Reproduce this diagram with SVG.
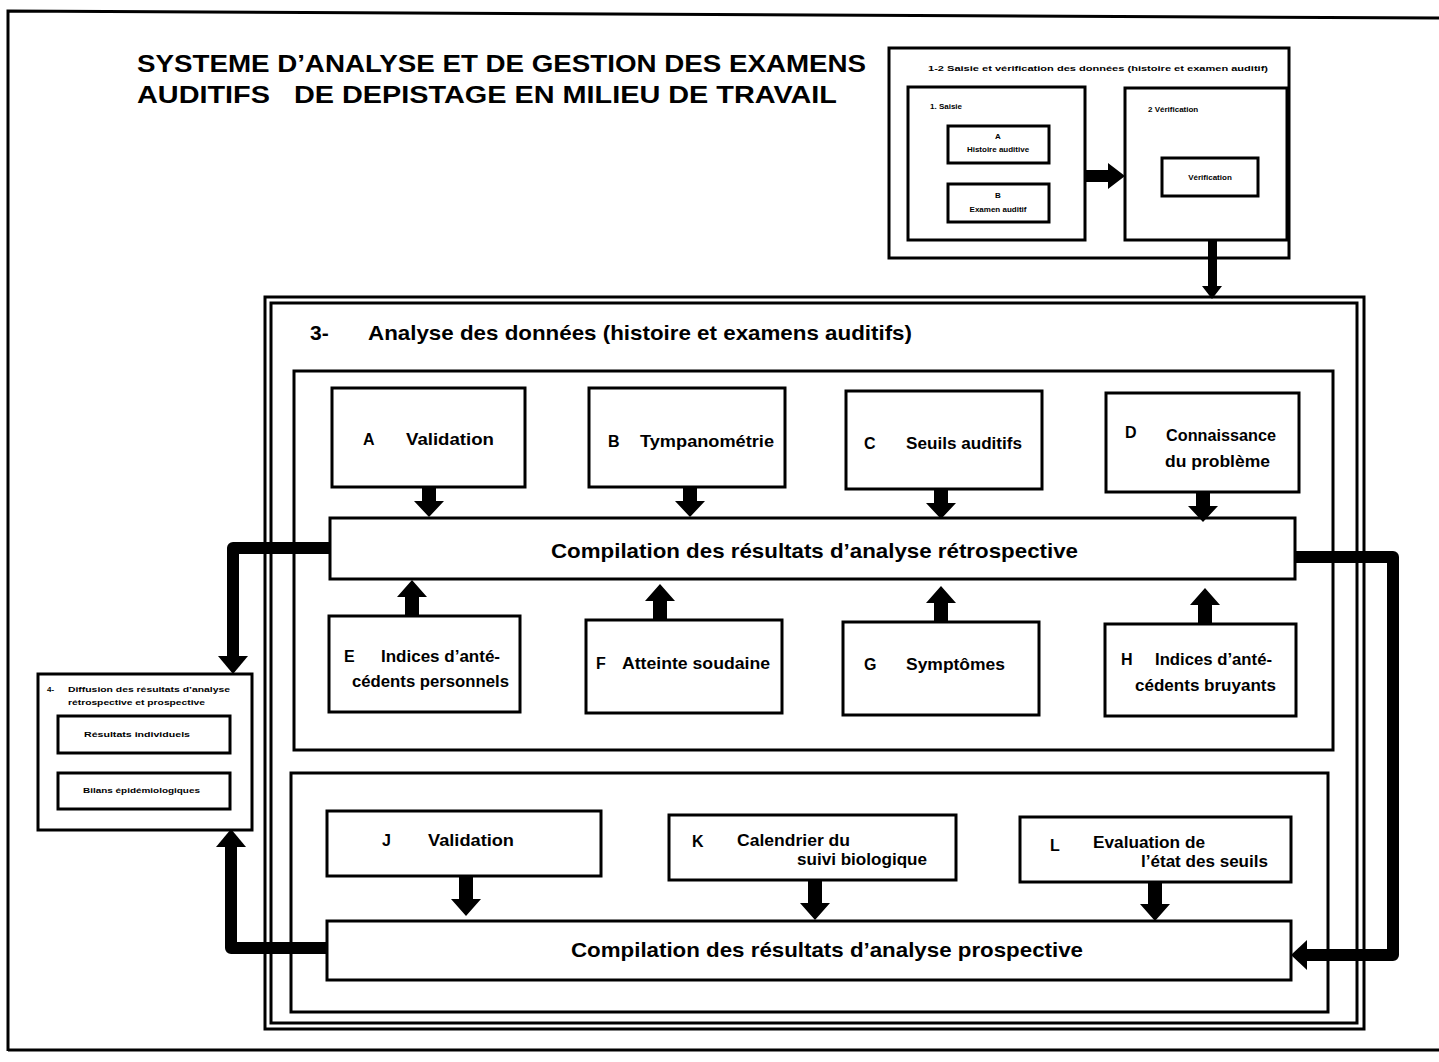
<svg xmlns="http://www.w3.org/2000/svg" width="1439" height="1062" viewBox="0 0 1439 1062">
<style>
.box{fill:#fff;stroke:#000;stroke-width:3}
.frame{fill:none;stroke:#000;stroke-width:3}
.t{font-family:"Liberation Sans",Arial,sans-serif;font-weight:bold;fill:#000}
.lbl{font-size:16px}
.big{font-size:21px}
.title{font-size:24px}
.sm{font-size:8px}
.conn{fill:none;stroke:#000;stroke-width:12;stroke-linejoin:round}
.ah{fill:#000;stroke:none}
</style>
<defs>
<path id="down" d="M-7,0 H7 V13 H15 L0,29 L-15,13 H-7 Z"/>
<path id="up" d="M-7,0 H7 V-18 H15 L0,-35 L-15,-18 H-7 Z"/>
<path id="down2" d="M-7,0 H7 V22 H15 L0,39 L-15,22 H-7 Z"/>
</defs>
<rect width="1439" height="1062" fill="#fff"/>
<g id="page-frame">
<path d="M8,1051 V11 L1439,18" class="frame"/>
<path d="M8,1050 H1439" class="frame"/>
</g>
<g id="title">
<text class="t title" x="137" y="72" textLength="729" lengthAdjust="spacingAndGlyphs">SYSTEME D’ANALYSE ET DE GESTION DES EXAMENS</text>
<text class="t title" x="137" y="103" xml:space="preserve" textLength="700" lengthAdjust="spacingAndGlyphs">AUDITIFS   DE DEPISTAGE EN MILIEU DE TRAVAIL</text>
</g>
<g id="node-1-2">
<rect class="box" x="889" y="48" width="400" height="210"/>
<text class="t sm" x="928" y="71" textLength="340" lengthAdjust="spacingAndGlyphs">1-2  Saisie et vérification des données  (histoire et examen auditif)</text>
<g id="node-1-saisie">
<rect class="box" x="908" y="87" width="177" height="153"/>
<text class="t sm" x="930" y="109">1.  Saisie</text>
<g id="node-1A">
<rect class="box" x="948" y="126" width="101" height="37"/>
<text class="t sm" x="998" y="139" text-anchor="middle">A</text>
<text class="t sm" x="998" y="152" text-anchor="middle">Histoire auditive</text>
</g>
<g id="node-1B">
<rect class="box" x="948" y="184" width="101" height="38"/>
<text class="t sm" x="998" y="198" text-anchor="middle">B</text>
<text class="t sm" x="998" y="212" text-anchor="middle">Examen auditif</text>
</g>
</g>
<g id="node-2-verification">
<rect class="box" x="1125" y="88" width="162" height="152"/>
<text class="t sm" x="1148" y="112">2   Vérification</text>
<g id="node-2A">
<rect class="box" x="1162" y="158" width="96" height="38"/>
<text class="t sm" x="1210" y="180" text-anchor="middle">Vérification</text>
</g>
</g>
</g>
<g id="node-3">
<rect class="frame" x="265" y="297" width="1099" height="732"/>
<rect class="frame" x="271" y="303" width="1086" height="720"/>
<text class="t big" x="310" y="340">3-</text>
<text class="t big" x="368" y="340" textLength="544" lengthAdjust="spacingAndGlyphs">Analyse des données (histoire et examens auditifs)</text>
</g>
<g id="node-3-retro">
<rect class="frame" x="294" y="371" width="1039" height="379"/>
</g>
<g id="node-3-prosp">
<rect class="frame" x="291" y="773" width="1037" height="239"/>
</g>
<g id="node-A">
<rect class="box" x="332" y="388" width="193" height="99"/>
<text class="t lbl" x="363" y="445">A</text>
<text class="t lbl" x="406" y="445" textLength="88" lengthAdjust="spacingAndGlyphs">Validation</text>
</g>
<g id="node-B">
<rect class="box" x="589" y="388" width="196" height="99"/>
<text class="t lbl" x="608" y="447">B</text>
<text class="t lbl" x="640" y="447" textLength="134" lengthAdjust="spacingAndGlyphs">Tympanométrie</text>
</g>
<g id="node-C">
<rect class="box" x="846" y="391" width="196" height="98"/>
<text class="t lbl" x="864" y="449">C</text>
<text class="t lbl" x="906" y="449" textLength="116" lengthAdjust="spacingAndGlyphs">Seuils auditifs</text>
</g>
<g id="node-D">
<rect class="box" x="1106" y="393" width="193" height="99"/>
<text class="t lbl" x="1125" y="438">D</text>
<text class="t lbl" x="1166" y="441" textLength="110" lengthAdjust="spacingAndGlyphs">Connaissance</text>
<text class="t lbl" x="1165" y="467" textLength="105" lengthAdjust="spacingAndGlyphs">du problème</text>
</g>
<g id="node-compil-retro">
<rect class="box" x="330" y="518" width="965" height="61"/>
<text class="t big" x="551" y="558" textLength="527" lengthAdjust="spacingAndGlyphs">Compilation des résultats d’analyse rétrospective</text>
</g>
<g id="node-E">
<rect class="box" x="329" y="616" width="191" height="96"/>
<text class="t lbl" x="344" y="662">E</text>
<text class="t lbl" x="381" y="662" textLength="119" lengthAdjust="spacingAndGlyphs">Indices d’anté-</text>
<text class="t lbl" x="352" y="687" textLength="157" lengthAdjust="spacingAndGlyphs">cédents personnels</text>
</g>
<g id="node-F">
<rect class="box" x="586" y="620" width="196" height="93"/>
<text class="t lbl" x="596" y="669">F</text>
<text class="t lbl" x="622" y="669" textLength="148" lengthAdjust="spacingAndGlyphs">Atteinte soudaine</text>
</g>
<g id="node-G">
<rect class="box" x="843" y="622" width="196" height="93"/>
<text class="t lbl" x="864" y="670">G</text>
<text class="t lbl" x="906" y="670" textLength="99" lengthAdjust="spacingAndGlyphs">Symptômes</text>
</g>
<g id="node-H">
<rect class="box" x="1105" y="624" width="191" height="92"/>
<text class="t lbl" x="1121" y="665">H</text>
<text class="t lbl" x="1155" y="665" textLength="117" lengthAdjust="spacingAndGlyphs">Indices d’anté-</text>
<text class="t lbl" x="1135" y="691" textLength="141" lengthAdjust="spacingAndGlyphs">cédents bruyants</text>
</g>
<g id="node-J">
<rect class="box" x="327" y="811" width="274" height="65"/>
<text class="t lbl" x="382" y="846">J</text>
<text class="t lbl" x="428" y="846" textLength="86" lengthAdjust="spacingAndGlyphs">Validation</text>
</g>
<g id="node-K">
<rect class="box" x="669" y="815" width="287" height="65"/>
<text class="t lbl" x="692" y="847">K</text>
<text class="t lbl" x="737" y="846" textLength="113" lengthAdjust="spacingAndGlyphs">Calendrier du</text>
<text class="t lbl" x="797" y="865" textLength="130" lengthAdjust="spacingAndGlyphs">suivi biologique</text>
</g>
<g id="node-L">
<rect class="box" x="1020" y="817" width="271" height="65"/>
<text class="t lbl" x="1050" y="851">L</text>
<text class="t lbl" x="1093" y="848" textLength="112" lengthAdjust="spacingAndGlyphs">Evaluation de</text>
<text class="t lbl" x="1141" y="867" textLength="127" lengthAdjust="spacingAndGlyphs">l’état des seuils</text>
</g>
<g id="node-compil-prosp">
<rect class="box" x="327" y="921" width="964" height="59"/>
<text class="t big" x="571" y="957" textLength="512" lengthAdjust="spacingAndGlyphs">Compilation des résultats d’analyse prospective</text>
</g>
<g id="node-4">
<rect class="box" x="38" y="674" width="214" height="156"/>
<text class="t sm" x="47" y="692">4-</text>
<text class="t sm" x="68" y="692" textLength="162" lengthAdjust="spacingAndGlyphs">Diffusion des résultats d’analyse</text>
<text class="t sm" x="68" y="705" textLength="137" lengthAdjust="spacingAndGlyphs">rétrospective et prospective</text>
<g id="node-4A">
<rect class="box" x="58" y="716" width="172" height="37"/>
<text class="t sm" x="84" y="737" textLength="106" lengthAdjust="spacingAndGlyphs">Résultats individuels</text>
</g>
<g id="node-4B">
<rect class="box" x="58" y="773" width="172" height="36"/>
<text class="t sm" x="83" y="793" textLength="117" lengthAdjust="spacingAndGlyphs">Bilans épidémiologiques</text>
</g>
</g>
<g id="connectors">
<path class="ah" d="M1086,170 H1108 V163 L1125,176 L1108,189 V182 H1086 Z"/>
<path class="ah" d="M1208,240 H1217 V286 H1222 L1212,299 L1202,286 H1208 Z"/>
<use href="#down" x="429" y="488"/>
<use href="#down" x="690" y="488"/>
<use href="#down" x="941" y="490"/>
<use href="#down" x="1203" y="493"/>
<use href="#up" x="412" y="615"/>
<use href="#up" x="660" y="619"/>
<use href="#up" x="941" y="621"/>
<use href="#up" x="1205" y="623"/>
<use href="#down2" x="466" y="877"/>
<use href="#down2" x="815" y="881"/>
<use href="#down2" x="1155" y="882"/>
<path class="conn" d="M330,548 H233 V658"/>
<path class="ah" d="M218,656 H248 L233,674 Z"/>
<path class="conn" d="M327,948 H231 V845"/>
<path class="ah" d="M216,847 H246 L231,829 Z"/>
<path class="conn" d="M1295,557 H1393 V955 H1303"/>
<path class="ah" d="M1307,940 V970 L1291,955 Z"/>
</g>
</svg>
